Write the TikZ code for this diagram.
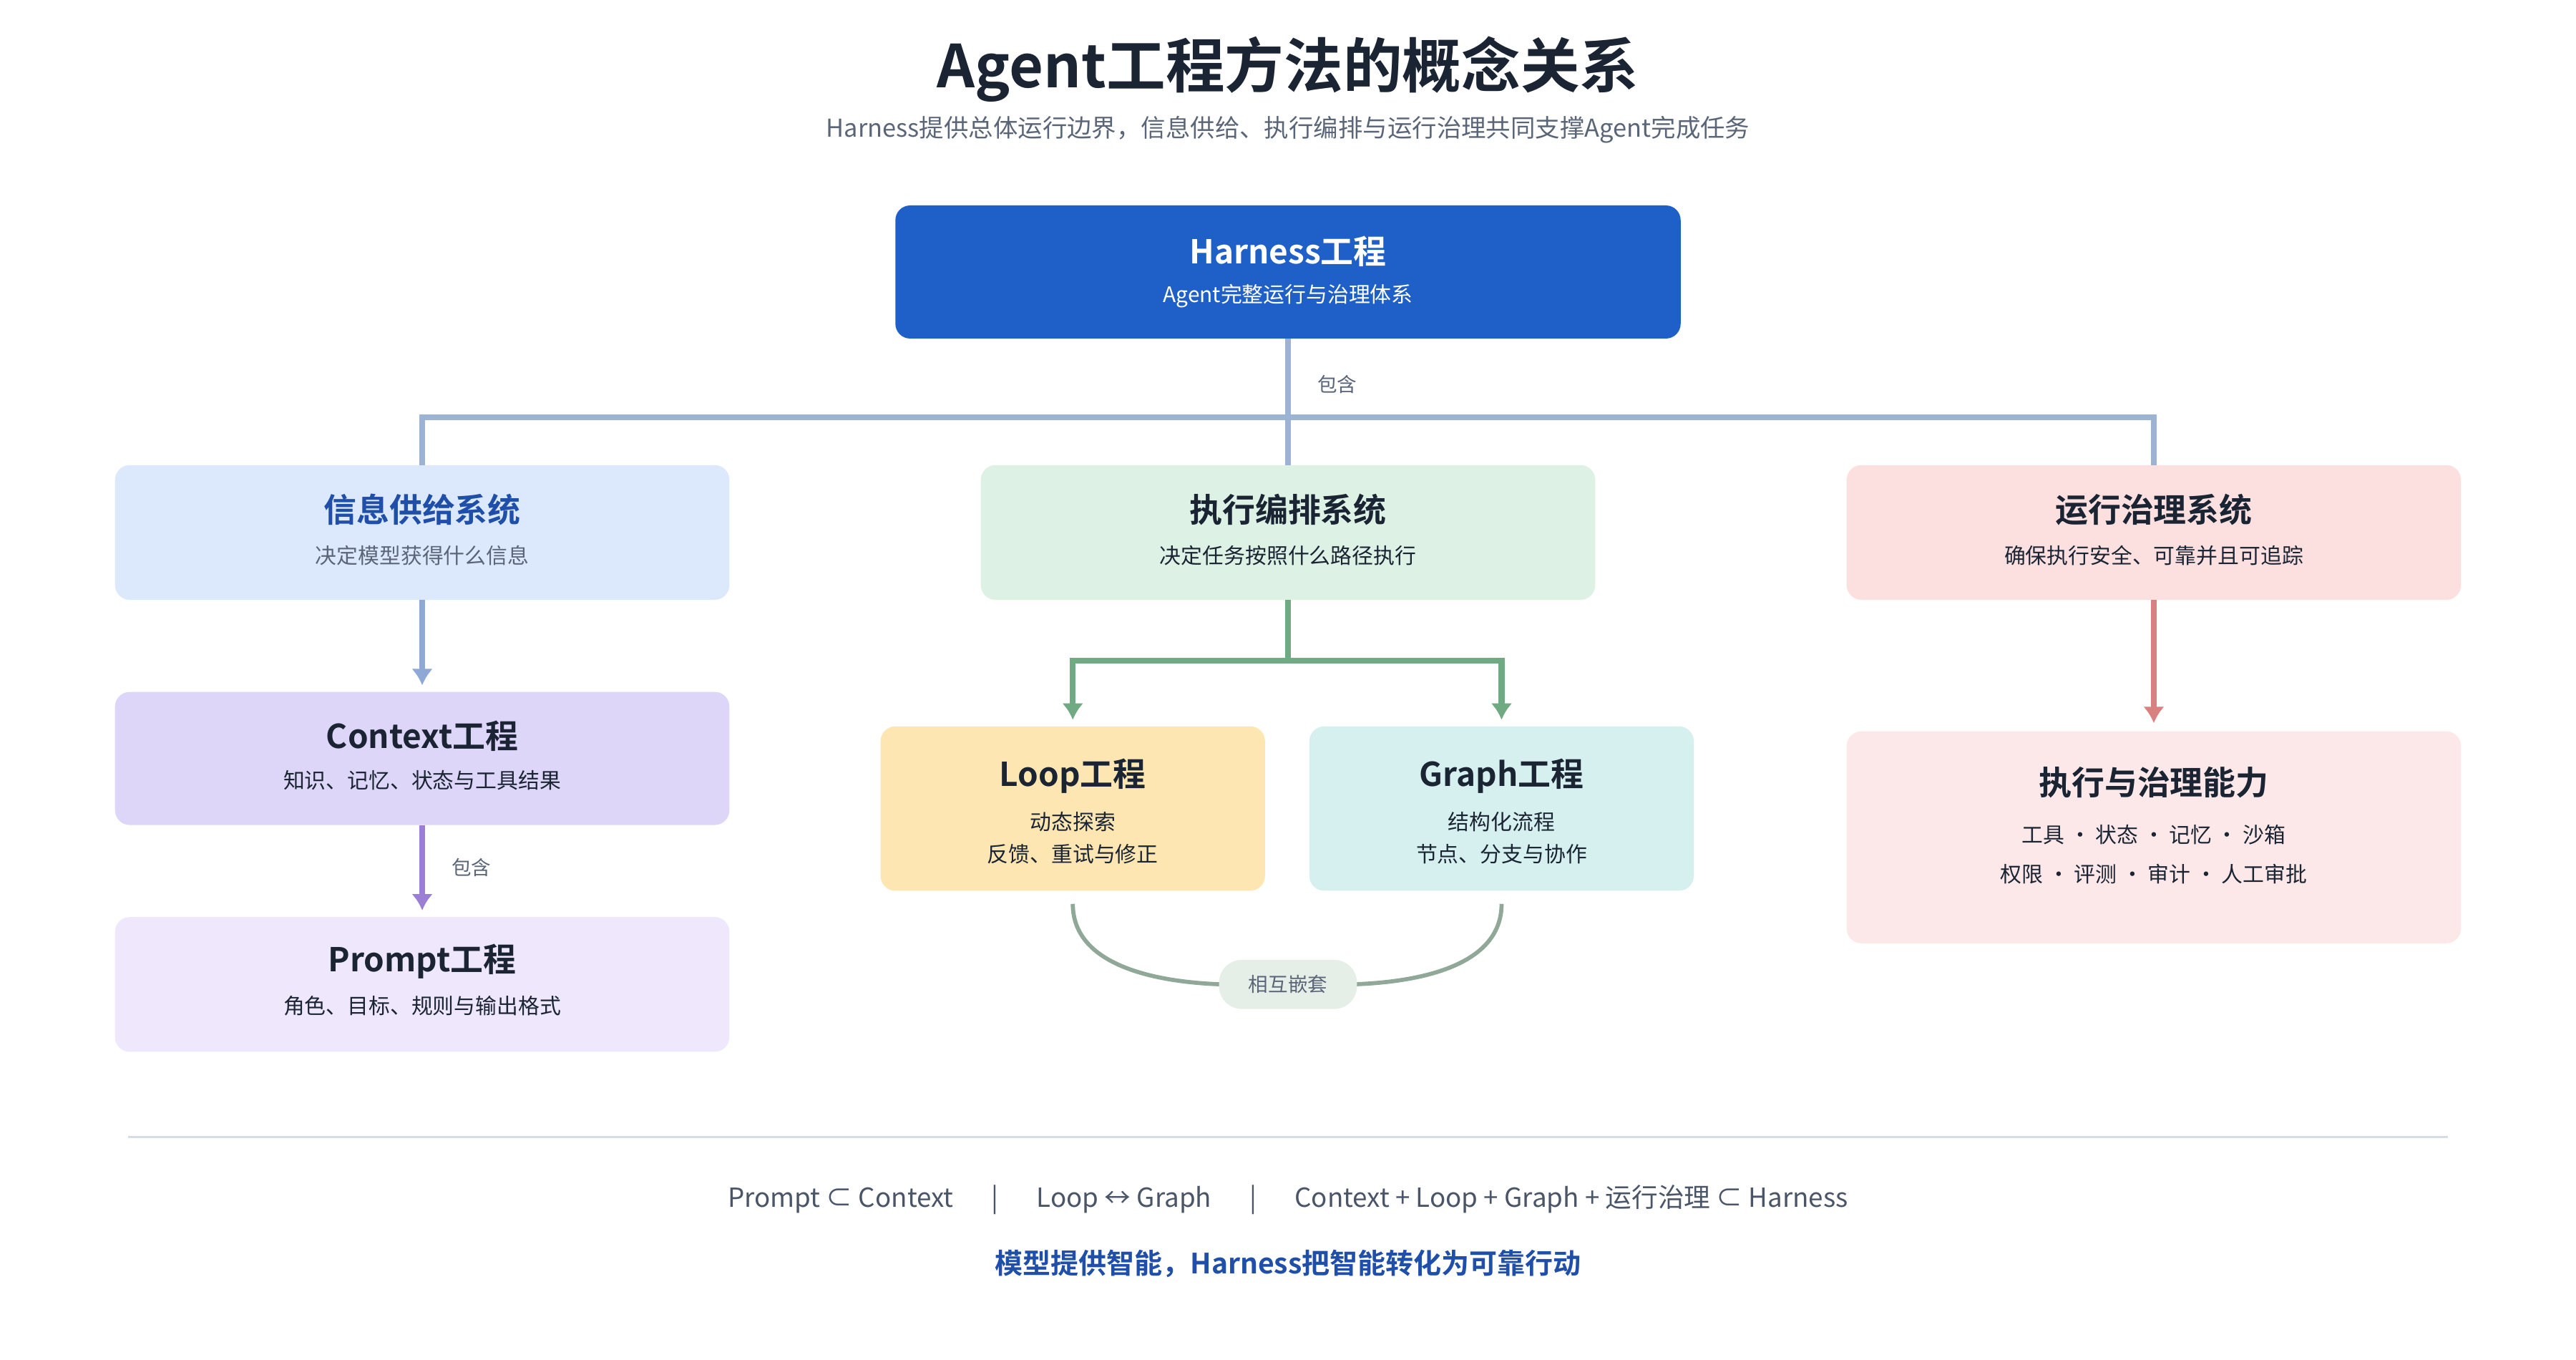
\documentclass[tikz,border=0pt]{standalone}
\usepackage{fontspec}
\usetikzlibrary{arrows.meta}
\setmainfont{Noto Sans CJK SC}
\newfontfamily\bfn{Noto Sans CJK SC Bold}
\begin{document}
\definecolor{ink}{HTML}{1A2433}
\definecolor{gr}{HTML}{5A6678}
\definecolor{blu}{HTML}{1F4FA8}
\begin{tikzpicture}[x=1pt,y=-1pt,
 box/.style={rounded corners=9pt,draw=none},
 tt/.style={font=\bfn\fontsize{20}{24}\selectfont,text=ink},
 st/.style={font=\fontsize{13}{16}\selectfont,text=ink},
 lab/.style={font=\fontsize{12}{14}\selectfont,text=gr},
 con/.style={line width=3.5pt},
 arr/.style={line width=3.5pt,-{Latex[length=10pt,width=13pt]}}]
\useasboundingbox (0,0) rectangle (1568,827.5);
\node[font=\bfn\fontsize{36}{40}\selectfont,text=ink] (title) at (784,42) {Agent工程方法的概念关系};
\node[font=\fontsize{15}{18}\selectfont,text=gr] (sub) at (784,79) {Harness提供总体运行边界，信息供给、执行编排与运行治理共同支撑Agent完成任务};
% Harness
\fill[box,fill={rgb,255:red,31;green,95;blue,200}] (545,125) rectangle (1023,206);
\node[tt,text=white] (h) at (784,153) {Harness工程};
\node[st,text=white] (hs) at (784,180) {Agent完整运行与治理体系};
\coordinate (hb) at (784,206);
% row1
\fill[box,fill={rgb,255:red,220;green,232;blue,252}] (70,283) rectangle (444,365);
\fill[box,fill={rgb,255:red,221;green,241;blue,228}] (597,283) rectangle (971,365);
\fill[box,fill={rgb,255:red,252;green,224;blue,224}] (1124,283) rectangle (1498,365);
\node[tt,text=blu] (i) at (257,310) {信息供给系统};
\node[st,text=gr] at (257,338) {决定模型获得什么信息};
\node[tt] (e) at (784,310) {执行编排系统};
\node[st] at (784,338) {决定任务按照什么路径执行};
\node[tt] (g) at (1311,310) {运行治理系统};
\node[st] at (1311,338) {确保执行安全、可靠并且可追踪};
\coordinate (it) at (257,283); \coordinate (et) at (784,283); \coordinate (gt) at (1311,283);
\draw[con,color={rgb,255:red,157;green,179;blue,212}] (it) -- (257,254) -- (1311,254) -- (gt);
\draw[con,color={rgb,255:red,157;green,179;blue,212}] (hb) -- (et);
\node[lab,fill=white,inner sep=2pt] (c1) at (814,234) {包含};
% left column
\fill[box,fill={rgb,255:red,221;green,214;blue,248}] (70,421) rectangle (444,502);
\node[tt] (ctx) at (257,448) {Context工程};
\node[st] at (257,475) {知识、记忆、状态与工具结果};
\fill[box,fill={rgb,255:red,239;green,232;blue,252}] (70,558) rectangle (444,640);
\node[tt] (p) at (257,585) {Prompt工程};
\node[st] at (257,612) {角色、目标、规则与输出格式};
\draw[arr,color={rgb,255:red,143;green,169;blue,214}] (257,365) -- (257,417);
\draw[arr,color={rgb,255:red,155;green,127;blue,212}] (257,502) -- (257,554);
\node[lab] (c2) at (287,528) {包含};
% middle
\fill[box,fill={rgb,255:red,253;green,230;blue,178}] (536,442) rectangle (770,542);
\fill[box,fill={rgb,255:red,214;green,240;blue,239}] (797,442) rectangle (1031,542);
\node[tt] (l) at (653,472) {Loop工程};
\node[st,align=center,font=\fontsize{13}{19.5}\selectfont] at (653,510) {动态探索\\反馈、重试与修正};
\node[tt] (gr) at (914,472) {Graph工程};
\node[st,align=center,font=\fontsize{13}{19.5}\selectfont] at (914,510) {结构化流程\\节点、分支与协作};
\draw[con,color={rgb,255:red,111;green,170;blue,130}] (784,365) -- (784,402);
\draw[arr,color={rgb,255:red,111;green,170;blue,130}] (784,402) -- (653,402) -- (653,438);
\draw[arr,color={rgb,255:red,111;green,170;blue,130}] (784,402) -- (914,402) -- (914,438);
\draw[line width=2.5pt,color={rgb,255:red,143;green,168;blue,152}] (653,550) .. controls (653,590) and (710,598) .. (745,599);
\draw[line width=2.5pt,color={rgb,255:red,143;green,168;blue,152}] (914,550) .. controls (914,590) and (858,598) .. (822,599);
\node[lab,fill={rgb,255:red,230;green,238;blue,232},rounded corners=14pt,minimum width=84pt,minimum height=30pt] (n) at (784,599) {相互嵌套};
% right
\draw[arr,color={rgb,255:red,217;green,128;blue,128}] (1311,365) -- (1311,440);
\fill[box,fill={rgb,255:red,252;green,232;blue,232}] (1124,445) rectangle (1498,574);
\node[tt] (x) at (1311,476) {执行与治理能力};
\node[st] at (1311,508) {工具 ・ 状态 ・ 记忆 ・ 沙箱};
\node[st] at (1311,532) {权限 ・ 评测 ・ 审计 ・ 人工审批};
% bottom
\draw[line width=1.2pt,color={rgb,255:red,213;green,220;blue,230}] (78,692) -- (1490,692);
\node[font=\fontsize{16}{20}\selectfont,text={rgb,255:red,74;green,85;blue,104}] (f1) at (784,730) {Prompt ⊂ Context\quad\ \ |\quad\ \ Loop ↔ Graph\quad\ \ |\quad\ \ Context + Loop + Graph + 运行治理 ⊂ Harness};
\node[font=\bfn\fontsize{17}{20}\selectfont,text=blu] (f2) at (784,769) {模型提供智能，Harness把智能转化为可靠行动};
\end{tikzpicture}
\end{document}
